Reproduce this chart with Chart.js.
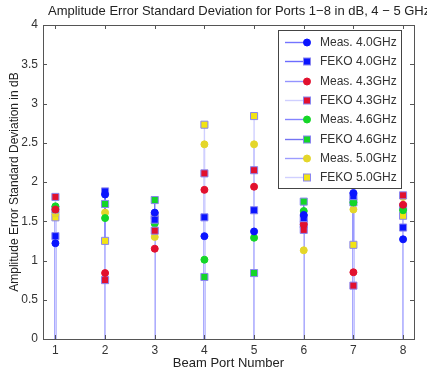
<!DOCTYPE html>
<html>
<head>
<meta charset="utf-8">
<script src="https://cdn.jsdelivr.net/npm/chart.js@4"></script>
<style>
  html,body{margin:0;padding:0;background:#fff;}
  canvas{display:block;}
</style>
</head>
<body>
<canvas id="c" width="427" height="374"></canvas>
<script>
// ports on the x axis
const ports=[1,2,3,4,5,6,7,8];
const yTicks=[0,0.5,1,1.5,2,2.5,3,3.5,4];

// amplitude error std dev (dB)
const meas40=[1.22,1.84,1.61,1.31,1.37,1.58,1.86,1.27];
const feko40=[1.31,1.88,1.52,1.55,1.64,1.54,1.82,1.42];
const meas43=[1.65,0.84,1.15,1.90,1.94,1.46,0.85,1.71];
const feko43=[1.81,0.75,1.38,2.11,2.15,1.39,0.68,1.83];
const meas46=[1.69,1.54,1.47,1.01,1.29,1.63,1.74,1.64];
const feko46=[1.65,1.72,1.77,0.79,0.84,1.75,1.74,1.68];
const meas50=[1.60,1.61,1.30,2.48,2.48,1.13,1.65,1.81];
const feko50=[1.55,1.25,1.57,2.73,2.84,1.46,1.20,1.57];

const seriesNames=['Meas. 4.0GHz','FEKO 4.0GHz','Meas. 4.3GHz','FEKO 4.3GHz',
  'Meas. 4.6GHz','FEKO 4.6GHz','Meas. 5.0GHz','FEKO 5.0GHz'];
const seriesValues=[meas40,feko40,meas43,feko43,meas46,feko46,meas50,feko50];

const FONT='"Liberation Sans", Arial, Helvetica, sans-serif';
const fills=['#0a14ff','#0a14ff','#e2102e','#e2102e','#14d628','#14d628','#e4d62a','#f2e414'];
const stemCols=['#7474ff','#6c6cff','#9494ff','#cfcfff','#8484ff','#7474f2','#9c9cff','#d0d0ff'];

const datasets=seriesValues.map((vals,i)=>{
  const isSq=i%2===1;
  return {
    label:seriesNames[i],
    data:vals.map((v,j)=>({x:ports[j],y:v})),
    showLine:false,
    pointStyle:isSq?'rect':'circle',
    pointRadius:isSq?5:3.5,
    pointHoverRadius:isSq?5:3.5,
    pointBackgroundColor:fills[i],
    pointBorderColor:isSq?'#8a86f0':fills[i],
    pointBorderWidth:1,
    stemColor:stemCols[i]
  };
});

// stems from 0 up to each value, like MATLAB stem()
const stems={
  id:'stems',
  beforeDatasetsDraw(chart){
    const {ctx,scales:{y}}=chart;
    const y0=y.getPixelForValue(0);
    ctx.save();
    ctx.lineWidth=1.4;
    chart.data.datasets.forEach((ds,i)=>{
      ctx.strokeStyle=ds.stemColor;
      chart.getDatasetMeta(i).data.forEach(pt=>{
        ctx.beginPath(); ctx.moveTo(pt.x,y0); ctx.lineTo(pt.x,pt.y); ctx.stroke();
      });
    });
    ctx.restore();
  }
};

// box + inward ticks on all four sides, title, legend
const frame={
  id:'frame',
  afterDraw(chart){
    const {ctx,chartArea:a,scales:{x,y}}=chart;
    ctx.save();
    ctx.strokeStyle='#555'; ctx.lineWidth=1;
    ctx.strokeRect(a.left+0.5,a.top+0.5,a.right-a.left,a.bottom-a.top);
    ctx.beginPath();
    ports.forEach(p=>{
      const px=Math.round(x.getPixelForValue(p))+0.5;
      ctx.moveTo(px,a.bottom); ctx.lineTo(px,a.bottom-4);
      ctx.moveTo(px,a.top); ctx.lineTo(px,a.top+4);
    });
    yTicks.forEach(v=>{
      const py=Math.round(y.getPixelForValue(v))+0.5;
      ctx.moveTo(a.left,py); ctx.lineTo(a.left+4,py);
      ctx.moveTo(a.right,py); ctx.lineTo(a.right-4,py);
    });
    ctx.stroke();

    ctx.fillStyle='#222'; ctx.font='13px '+FONT;
    ctx.textAlign='left'; ctx.textBaseline='middle';
    ctx.fillText('Amplitude Error Standard Deviation for Ports 1\u22128 in dB, 4 \u2212 5 GHz',48,11);

    // legend
    const lx=278,ly=30,lw=123,lh=158;
    ctx.fillStyle='#fff'; ctx.fillRect(lx,ly,lw,lh);
    ctx.strokeStyle='#444'; ctx.strokeRect(lx+0.5,ly+0.5,lw,lh);
    ctx.font='12px '+FONT;
    chart.data.datasets.forEach((ds,i)=>{
      const ry=Math.round(ly+12+i*19.3)+0.5;
      ctx.strokeStyle=ds.stemColor; ctx.lineWidth=1.4;
      ctx.beginPath(); ctx.moveTo(lx+7,ry); ctx.lineTo(lx+29,ry); ctx.stroke();
      ctx.fillStyle=ds.pointBackgroundColor; ctx.strokeStyle=ds.pointBorderColor; ctx.lineWidth=1;
      const mx=lx+29;
      if(ds.pointStyle==='rect'){
        ctx.fillRect(mx-3.5,ry-3.5,7,7); ctx.strokeRect(mx-3.5,ry-3.5,7,7);
      } else {
        ctx.beginPath(); ctx.arc(mx,ry,3.5,0,Math.PI*2); ctx.fill(); ctx.stroke();
      }
      ctx.fillStyle='#333'; ctx.textAlign='left'; ctx.textBaseline='middle';
      ctx.fillText(ds.label,lx+42,ry);
    });
    ctx.restore();
  }
};

new Chart(document.getElementById('c'),{
  type:'scatter',
  data:{datasets},
  plugins:[stems,frame],
  options:{
    responsive:false,
    animation:false,
    devicePixelRatio:1,
    layout:{padding:{top:25,right:13,left:0,bottom:0}},
    plugins:{legend:{display:false},tooltip:{enabled:false},title:{display:false}},
    scales:{
      x:{
        type:'linear',min:0.75,max:8.22,
        afterBuildTicks:s=>{s.ticks=ports.map(v=>({value:v}));},
        afterFit:s=>{s.height=35;},
        grid:{display:false,drawTicks:false},border:{display:false},
        ticks:{color:'#333',font:{family:FONT,size:12},padding:4,maxRotation:0},
        title:{display:true,text:'Beam Port Number',color:'#222',
          font:{family:FONT,size:13},padding:{top:0,bottom:3}}
      },
      y:{
        type:'linear',min:0,max:4,
        afterBuildTicks:s=>{s.ticks=yTicks.map(v=>({value:v}));},
        afterFit:s=>{s.width=43;},
        grid:{display:false,drawTicks:false},border:{display:false},
        ticks:{color:'#333',font:{family:FONT,size:12},padding:5,callback:v=>String(v)},
        title:{display:true,text:'Amplitude Error Standard Deviation in dB',color:'#222',
          font:{family:FONT,size:12},padding:{top:7,bottom:0}}
      }
    }
  }
});
</script>
</body>
</html>
